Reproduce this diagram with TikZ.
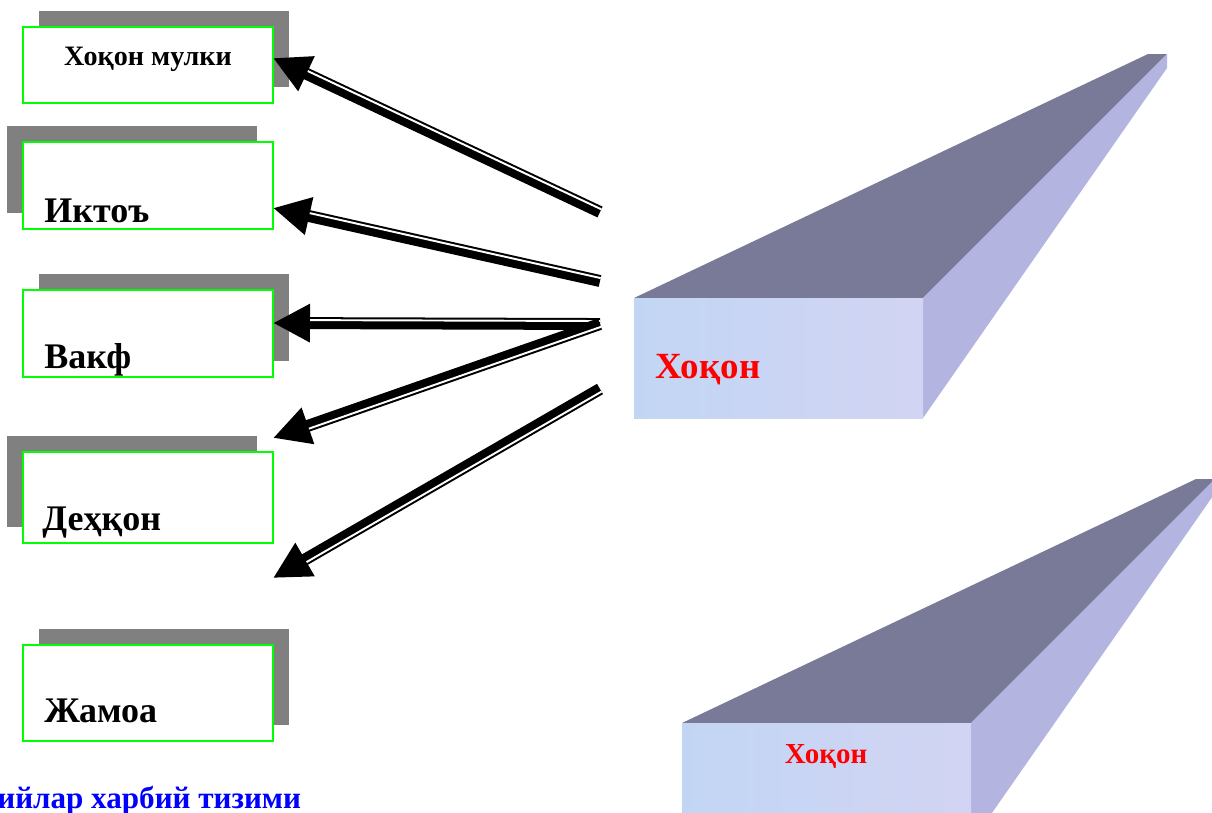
\documentclass[tikz,border=0pt]{standalone}
\usepackage{fontspec}
\setmainfont{Liberation Serif}
\usetikzlibrary{calc,arrows.meta,shadows}

\definecolor{topface}{RGB}{121,122,152}
\definecolor{sideface}{RGB}{179,180,224}
\definecolor{frontA}{RGB}{194,214,244}
\definecolor{frontB}{RGB}{210,212,243}
\definecolor{boxgreen}{RGB}{0,255,0}

\tikzset{
  ownbox/.style={draw=boxgreen, line width=1.1pt, fill=white, minimum width=5cm, inner sep=0pt},
  shadowne/.style={drop shadow={shadow xshift=0.32cm, shadow yshift=0.33cm, fill=black!50, opacity=1}},
  shadownw/.style={drop shadow={shadow xshift=-0.32cm, shadow yshift=0.32cm, fill=black!50, opacity=1}},
  boxtext/.style={inner sep=0pt, anchor=base west, font=\bfseries\fontsize{20.5}{24}\selectfont},
  bigarrow/.style={line width=6.8pt, -{Triangle[length=0.74cm, width=0.72cm]}},
  gapline/.style={white, line width=1.1pt, shorten >=0.74cm}
}

\begin{document}
\begin{tikzpicture}[x=0.02cm, y=-0.02cm]
  \useasboundingbox (0,0) rectangle (1212,812);
  \clip (0,0) rectangle (1212,812);
  % the two bars
  \foreach \dx/\dy in {0/0, 48/425} {
    \begin{scope}[shift={(\dx,\dy)}]
      \fill[topface] (634,298) -- (1148,54) -- (1167,54) -- (923,298) -- cycle;
      \fill[sideface] (923,298) -- (1167,54) -- (1167,68) -- (923,418) -- cycle;
      \shade[left color=frontA, right color=frontB] (634,298) rectangle (923,418);
    \end{scope}
  }
  \node[inner sep=0pt, anchor=base west, text=red, font=\bfseries\fontsize{21}{25}\selectfont] (khaqon) at (655,378) {Хоқон};
  \node[inner sep=0pt, anchor=base, text=red, font=\bfseries\fontsize{16.5}{20}\selectfont] (khaqontwo) at (826,763) {Хоқон};

  % boxes
  \node[ownbox, minimum height=1.52cm, shadowne] (mulk) at (148,65) {};
  \node[ownbox, minimum height=1.74cm, shadownw] (ikto) at (148,185.5) {};
  \node[ownbox, minimum height=1.74cm, shadowne] (vakf) at (148,333.5) {};
  \node[ownbox, minimum height=1.82cm, shadownw] (dehqon) at (148,497.5) {};
  \node[ownbox, minimum height=1.92cm, shadowne] (jamoa) at (148,693) {};
  \node[boxtext, anchor=base, font=\bfseries\fontsize{16}{19}\selectfont] (mulktxt) at (mulk.center) {Хоқон мулки};
  \node[boxtext] (iktotxt) at ([shift={(22,-7)}]ikto.south west) {Иктоъ};
  \node[boxtext] (vakftxt) at ([shift={(22,-9)}]vakf.south west) {Вакф};
  \node[boxtext] (dehqontxt) at ([shift={(20,-13)}]dehqon.south west) {Деҳқон};
  \node[boxtext] (jamoatxt) at ([shift={(22,-19)}]jamoa.south west) {Жамоа};

  % arrows
  \coordinate (s1) at (600,212);
  \coordinate (s2) at (600,281);
  \coordinate (s3) at (600,324);
  \coordinate (s4) at (600,324);
  \coordinate (s5) at (600,389);
  \coordinate (t1) at (273,58);
  \coordinate (t2) at (273,208);
  \coordinate (t3) at (273,323);
  \coordinate (t4) at (273,438);
  \coordinate (t5) at (273,578);
  \foreach \sfrom/\stip/\srot in {s1/t1/-90, s2/t2/-90, s3/t3/-90, s4/t4/90, s5/t5/90} {
    \draw[bigarrow] (\sfrom) -- (\stip);
    \draw[gapline] let \p1=($(\stip)-(\sfrom)$), \n1={atan2(\y1,\x1)+(\srot)} in
      ([shift={(\n1:0.06cm)}]\sfrom) -- ([shift={(\n1:0.06cm)}]\stip);
  }

  \node[inner sep=0pt, anchor=base west, text=blue, font=\bfseries\fontsize{17.7}{21}\selectfont] (tizim) at (-3,808) {ийлар харбий тизими};
\end{tikzpicture}
\end{document}
